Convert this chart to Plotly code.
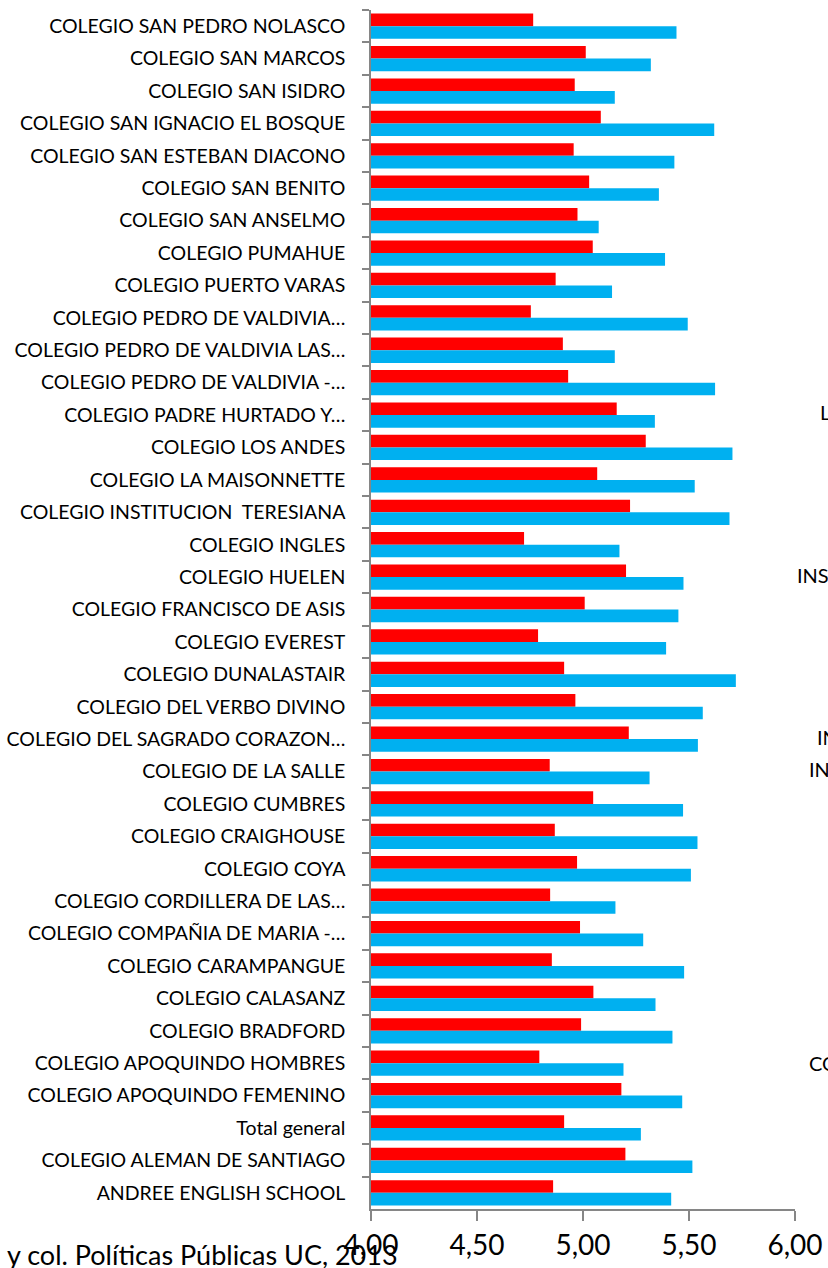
import plotly.graph_objects as go

schools = [
    "COLEGIO SAN PEDRO NOLASCO",
    "COLEGIO SAN MARCOS",
    "COLEGIO SAN ISIDRO",
    "COLEGIO SAN IGNACIO EL BOSQUE",
    "COLEGIO SAN ESTEBAN DIACONO",
    "COLEGIO SAN BENITO",
    "COLEGIO SAN ANSELMO",
    "COLEGIO PUMAHUE",
    "COLEGIO PUERTO VARAS",
    "COLEGIO PEDRO DE VALDIVIA…",
    "COLEGIO PEDRO DE VALDIVIA LAS…",
    "COLEGIO PEDRO DE VALDIVIA -…",
    "COLEGIO PADRE HURTADO Y…",
    "COLEGIO LOS ANDES",
    "COLEGIO LA MAISONNETTE",
    "COLEGIO INSTITUCION \u00a0TERESIANA",
    "COLEGIO INGLES",
    "COLEGIO HUELEN",
    "COLEGIO FRANCISCO DE ASIS",
    "COLEGIO EVEREST",
    "COLEGIO DUNALASTAIR",
    "COLEGIO DEL VERBO DIVINO",
    "COLEGIO DEL SAGRADO CORAZON…",
    "COLEGIO DE LA SALLE",
    "COLEGIO CUMBRES",
    "COLEGIO CRAIGHOUSE",
    "COLEGIO COYA",
    "COLEGIO CORDILLERA DE LAS…",
    "COLEGIO COMPAÑIA DE MARIA -…",
    "COLEGIO CARAMPANGUE",
    "COLEGIO CALASANZ",
    "COLEGIO BRADFORD",
    "COLEGIO APOQUINDO HOMBRES",
    "COLEGIO APOQUINDO FEMENINO",
    "Total general",
    "COLEGIO ALEMAN DE SANTIAGO",
    "ANDREE ENGLISH SCHOOL",
]

red_values = [
    4.765, 5.013, 4.961, 5.084, 4.956, 5.029, 4.974, 5.046, 4.871, 4.754,
    4.905, 4.930, 5.159, 5.296, 5.067, 5.222, 4.722, 5.203, 5.008, 4.788,
    4.911, 4.964, 5.216, 4.843, 5.048, 4.867, 4.972, 4.845, 4.986, 4.853,
    5.049, 4.991, 4.794, 5.181, 4.911, 5.200, 4.859,
]

blue_values = [
    5.441, 5.320, 5.150, 5.619, 5.431, 5.358, 5.074, 5.387, 5.137, 5.494,
    5.150, 5.623, 5.339, 5.705, 5.527, 5.691, 5.172, 5.474, 5.450, 5.392,
    5.721, 5.565, 5.542, 5.314, 5.472, 5.540, 5.509, 5.153, 5.284, 5.477,
    5.342, 5.422, 5.191, 5.468, 5.273, 5.516, 5.416,
]

x_tickvals = [4.0, 4.5, 5.0, 5.5, 6.0]
x_ticktext = ["4,00", "4,50", "5,00", "5,50", "6,00"]

source_text = "y col. Políticas Públicas UC, 2013"
stray_texts = [("L", 818, 412), ("INS", 795, 575), ("I", 825, 640),
               ("IN", 815, 737), ("IN", 807, 769), ("I", 825, 965),
               ("I", 825, 997), ("CO", 807, 1063)]

W, H = 828, 1268
L, R, T, B = 371, 33, 10, 59
PW, PH = W - L - R, H - T - B

FONT = "Lato, 'Open Sans', sans-serif"

fig = go.Figure()
fig.add_trace(go.Bar(y=schools, x=red_values, orientation="h",
                     marker=dict(color="#FF0000", line=dict(width=0)),
                     showlegend=False))
fig.add_trace(go.Bar(y=schools, x=blue_values, orientation="h",
                     marker=dict(color="#00B0F0", line=dict(width=0)),
                     showlegend=False))

def px2paper(px, py):
    return (px - L) / PW, (H - B - py) / PH

annotations = []
ax_, ay_ = px2paper(5, 1254)
annotations.append(dict(text=source_text, xref="paper", yref="paper", x=ax_, y=ay_,
                        xanchor="left", yanchor="middle", showarrow=False,
                        font=dict(family=FONT, size=27, color="#000000")))
for t, px, py in stray_texts:
    xx, yy = px2paper(px, py)
    annotations.append(dict(text=t, xref="paper", yref="paper", x=xx, y=yy,
                            xanchor="left", yanchor="middle", showarrow=False,
                            font=dict(family=FONT, size=20, color="#000000")))

fig.update_layout(
    width=W, height=H,
    margin=dict(l=L, r=R, t=T, b=B, pad=0, autoexpand=False),
    paper_bgcolor="#FFFFFF", plot_bgcolor="#FFFFFF",
    barmode="group", bargap=0.22, bargroupgap=0.0,
    font=dict(family=FONT, color="#000000"),
    annotations=annotations,
    xaxis=dict(range=[4.0, 6.0], tickvals=x_tickvals, ticktext=x_ticktext,
               automargin=False,
               showgrid=False, zeroline=False, showline=True, linecolor="#868686",
               linewidth=1.5, ticks="outside", ticklen=10, tickcolor="#868686",
               tickwidth=1.5, tickfont=dict(family=FONT, size=28, color="#000000"),
               ticklabelstandoff=1),
    yaxis=dict(autorange="reversed", type="category", showgrid=False, zeroline=False,
               automargin=False,
               showline=True, linecolor="#868686", linewidth=1.5, ticks="outside",
               ticklen=7, tickcolor="#868686", tickwidth=1.5, tickson="boundaries",
               tickfont=dict(family=FONT, size=19.5, color="#000000"),
               ticklabelstandoff=20),
)

fig.write_html("out.html", config={"displayModeBar": False},
               post_script="document.body.style.margin='0';document.body.style.overflow='hidden';")
